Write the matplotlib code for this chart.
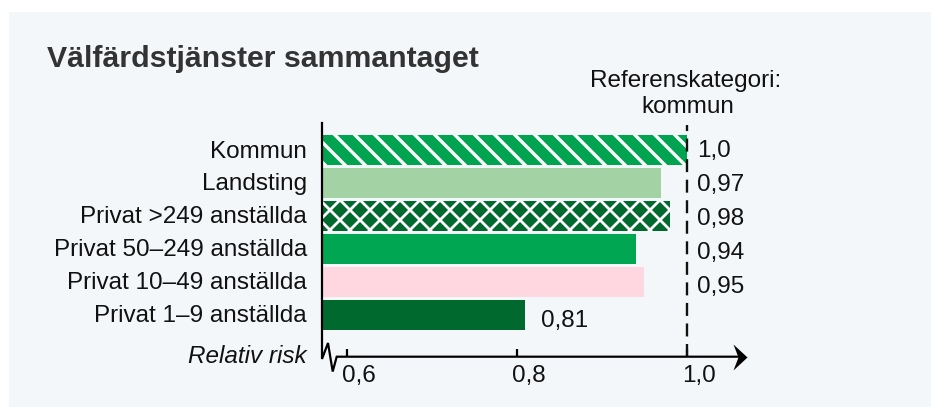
import warnings
import matplotlib
matplotlib.use("Agg")
import matplotlib.pyplot as plt
from matplotlib.patches import Rectangle
from matplotlib.path import Path
from matplotlib import hatch as mhatch
import numpy as np

warnings.filterwarnings("ignore")

# ---- data ----
categories = ["Kommun", "Landsting", "Privat >249 anställda",
              "Privat 50–249 anställda", "Privat 10–49 anställda",
              "Privat 1–9 anställda"]
values = [1.0, 0.97, 0.98, 0.94, 0.95, 0.81]
value_labels = ["1,0", "0,97", "0,98", "0,94", "0,95", "0,81"]
xticks = [0.6, 0.8, 1.0]
xtick_labels = ["0,6", "0,8", "1,0"]
reference_value = 1.0
title = "Välfärdstjänster sammantaget"
ref_label = ["Referenskategori:", "kommun"]
axis_label = "Relativ risk"


# ---- custom hatch density (10 line steps per hatch unit -> 20 px period) ----
class _SparseSE(mhatch.SouthEastHatch):
    def __init__(self, hatch, density):
        self.num_lines = 10 * (1 if (hatch.count('{') + hatch.count('}')) else 0)
        self.num_vertices = (self.num_lines + 1) * 2 if self.num_lines else 0


class _SparseNE(mhatch.NorthEastHatch):
    def __init__(self, hatch, density):
        self.num_lines = 10 * (1 if hatch.count('}') else 0)
        self.num_vertices = (self.num_lines + 1) * 2 if self.num_lines else 0


mhatch._hatch_types.extend([_SparseSE, _SparseNE])

# ---- styles ----
colors = ["#00a450", "#a3d3a5", "#006a2e", "#00a651", "#ffd7e0", "#006a2e"]
hatches = ["{", None, "}", None, None, None]   # { = \\ stripes, } = cross
hatch_lw = [2.4, 0, 2.0, 0, 0, 0]
FS = 17.5

plt.rcParams['font.family'] = ['Liberation Sans', 'DejaVu Sans']
W, H = 931, 407
DPI = 100
fig = plt.figure(figsize=(W / DPI, H / DPI), dpi=DPI)
fig.patch.set_facecolor("white")
fig.patches.append(Rectangle((9 / W, 0), 1 - 9 / W, (H - 12) / H,
                             transform=fig.transFigure, facecolor="#f4f7fa",
                             edgecolor="none", zorder=-5))

# axes geometry (pixels)
ax_left, ax_right, ax_top, ax_bot = 322, 746.7, 123, 356.7
ax = fig.add_axes([ax_left / W, (H - ax_bot) / H,
                   (ax_right - ax_left) / W, (ax_bot - ax_top) / H])
ax.set_facecolor("none")
ax.set_zorder(2)
ppu = 850.0  # pixels per unit
x0px = 346.7  # pixel of 0.6
xmin = 0.6 - (x0px - ax_left) / ppu
xmax = 0.6 + (ax_right - x0px) / ppu
ax.set_xlim(xmin, xmax)
step = 32.95
ax.set_ylim((ax_bot - 150) / step, (ax_top - 150) / step)

for s in ax.spines.values():
    s.set_visible(False)

y = np.arange(len(categories))
for i, (v, c, h, hl) in enumerate(zip(values, colors, hatches, hatch_lw)):
    with plt.rc_context({'hatch.linewidth': hl if hl else 1.0, 'hatch.color': 'white'}):
        b = ax.barh(y[i], v - xmin, left=xmin, height=0.91, color=c,
                    edgecolor="white" if h else "none", linewidth=0,
                    hatch=h, zorder=2)
        for p in b.patches:
            if h and hasattr(p, "set_hatch_linewidth"):
                p.set_hatch_linewidth(hl)

# reference dashed line
ax.axvline(reference_value, ymin=0, ymax=0.99, color="#111111", lw=1.7,
           dashes=(5.5, 3.2), zorder=3)

px2pt = 72.0 / DPI
xt = ax.get_xaxis_transform()

def px2x(px):
    return 0.6 + (px - x0px) / ppu

def py2f(py):
    return (ax_bot - py) / (ax_bot - ax_top)

# left spine with break zigzag and x-axis line
zig_px = [(322, ax_top), (322, 359), (328, 343), (332.7, 371.5),
          (336.7, ax_bot), (ax_right - 8, ax_bot)]
ax.plot([px2x(p[0]) for p in zig_px], [py2f(p[1]) for p in zig_px],
        transform=xt, color="black", lw=1.6, clip_on=False, zorder=4,
        solid_joinstyle="miter")
# arrow head
verts = [(0, 0), (-14, 13), (-9, 0), (-14, -13), (0, 0)]
arrow = Path(verts, [Path.MOVETO, Path.LINETO, Path.LINETO, Path.LINETO, Path.CLOSEPOLY])
ax.plot([xmax], [0], transform=xt, marker=arrow, markersize=28 * px2pt,
        color="black", markeredgewidth=0, clip_on=False, zorder=5)

# ticks
ax.set_xticks(xticks)
ax.set_xticklabels([])
ax.tick_params(axis="x", direction="in", length=8 * px2pt, width=1.6,
               color="black", pad=0)
ax.set_yticks([])
for t, lab in zip(xticks, xtick_labels):
    ax.annotate(lab, xy=(t, 0), xycoords=xt,
                xytext=(-5 * px2pt, -25 * px2pt), textcoords="offset points",
                ha="left", va="baseline", fontsize=FS, color="#111111")

# category labels
for i, cat in enumerate(categories):
    ax.annotate(cat, xy=(xmin, y[i]), xycoords="data",
                xytext=(-15 * px2pt, -7.5 * px2pt), textcoords="offset points",
                ha="right", va="baseline", fontsize=FS, color="#111111",
                annotation_clip=False)

# value labels
for i, (v, lab) in enumerate(zip(values, value_labels)):
    if v > 0.9:
        xv, dx = reference_value, 10
    else:
        xv, dx = v, 16
    ax.annotate(lab, xy=(xv, y[i]), xycoords="data",
                xytext=(dx * px2pt, -(7.5 + 1.05 * i) * px2pt),
                textcoords="offset points", ha="left", va="baseline",
                fontsize=FS, color="#111111", annotation_clip=False)

# axis label
ax.annotate(axis_label, xy=(xmin, 0), xycoords=xt,
            xytext=(-15 * px2pt, -6 * px2pt), textcoords="offset points",
            ha="right", va="baseline", fontsize=FS, style="italic",
            color="#111111", annotation_clip=False)

# reference label
ax.annotate(ref_label[0], xy=(reference_value, 1), xycoords=xt,
            xytext=(-1 * px2pt, (ax_top - 86.7) * px2pt), textcoords="offset points",
            ha="center", va="baseline", fontsize=FS, color="#111111",
            annotation_clip=False)
ax.annotate(ref_label[1], xy=(reference_value, 1), xycoords=xt,
            xytext=(1 * px2pt, (ax_top - 113) * px2pt), textcoords="offset points",
            ha="center", va="baseline", fontsize=FS, color="#111111",
            annotation_clip=False)

# title
fig.text(47 / W, 1 - 67 / H, title, fontsize=21.8, fontweight="bold",
         color="#333333", ha="left", va="baseline")

fig.savefig("out.png", dpi=DPI)
